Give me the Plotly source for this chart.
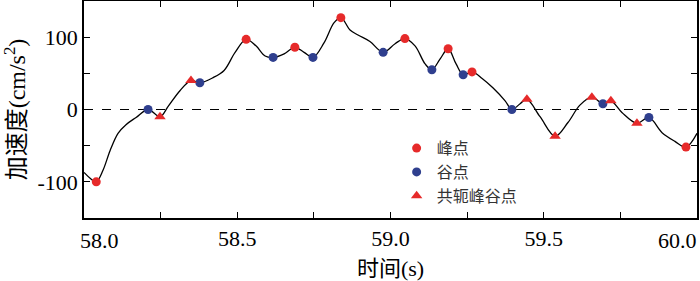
import plotly.graph_objects as go

# curve samples (time s, acceleration cm/s^2)
curve_t = [58.000, 58.020, 58.040, 58.062, 58.085, 58.111, 58.137, 58.170, 58.209, 58.248,
           58.274, 58.313, 58.349, 58.378, 58.421, 58.457, 58.493, 58.529, 58.561, 58.591,
           58.617, 58.653, 58.688, 58.718, 58.747, 58.783, 58.816, 58.838, 58.868, 58.894,
           58.933, 58.976, 59.015, 59.047, 59.080, 59.113, 59.135, 59.162, 59.188, 59.214,
           59.237, 59.266, 59.299, 59.334, 59.374, 59.396, 59.423, 59.445, 59.488, 59.537,
           59.579, 59.618, 59.657, 59.693, 59.719, 59.755, 59.804, 59.843, 59.886, 59.928,
           59.964, 60.000]
curve_a = [-87, -95, -100, -84, -57, -33, -21, -11, 0, -10,
           4, 26, 40, 37, 44, 54, 79, 97, 88, 74,
           72, 77, 86, 79, 72, 92, 120, 127, 110, 103,
           94, 79, 91, 98, 88, 63, 55, 70, 84, 63,
           48, 52, 43, 30, 12, 0, 8, 14, -10, -37,
           -18, 6, 17, 8, 12, -4, -19, -11, -32, -44,
           -52, -33]

peaks_t = [58.040, 58.529, 58.688, 58.838, 59.047, 59.188, 59.266, 59.964]
peaks_a = [-100, 97, 86, 127, 98, 84, 52, -52]

valleys_t = [58.209, 58.378, 58.617, 58.747, 58.976, 59.135, 59.237, 59.396, 59.693, 59.843]
valleys_a = [0, 37, 72, 72, 79, 55, 48, 0, 8, -11]

conj_t = [58.248, 58.349, 59.445, 59.537, 59.657, 59.719, 59.804]
conj_a = [-10, 40, 14, -37, 17, 12, -19]

x_ticks = [58.0, 58.5, 59.0, 59.5, 60.0]
x_tick_labels = ["58.0", "58.5", "59.0", "59.5", "60.0"]
y_ticks = [-100, 0, 100]
y_tick_labels = ["-100", "0", "100"]

RED = "#e62a2a"
BLUE = "#2f3f8e"
serif = "Liberation Serif"
cjk = "Noto Sans CJK SC"
TICK_FONT = dict(family=serif, size=22, color="black")

fig = go.Figure()
fig.add_trace(go.Scatter(x=curve_t, y=curve_a, mode="lines", line=dict(color="black", width=1.3, shape="spline", smoothing=1.0),
                         showlegend=False, hoverinfo="skip"))
fig.add_trace(go.Scatter(x=peaks_t, y=peaks_a, mode="markers", name="峰点",
                         marker=dict(color=RED, size=9, symbol="circle")))
fig.add_trace(go.Scatter(x=valleys_t, y=valleys_a, mode="markers", name="谷点",
                         marker=dict(color=BLUE, size=9, symbol="circle")))
fig.add_trace(go.Scatter(x=conj_t, y=conj_a, mode="markers", name="共轭峰谷点",
                         marker=dict(color=RED, size=10, symbol="triangle-up")))

fig.add_hline(y=0, line=dict(color="black", width=1.2, dash="dash"), layer="below")

axis_common = dict(showline=True, linecolor="black", linewidth=1.5, mirror="ticks",
                   ticks="inside", ticklen=6, tickwidth=1.3, tickcolor="black",
                   showgrid=False, zeroline=False, automargin=False,
                   tickfont=TICK_FONT)

# inner labels as axis ticks; end labels drawn as annotations (nudged inward like the reference)
fig.update_xaxes(range=[58.0, 60.0], tickvals=x_ticks[1:-1], ticktext=x_tick_labels[1:-1],
                 minor=dict(dtick=0.25, tick0=58.0, ticks="inside", ticklen=6, tickwidth=1.3, tickcolor="black"),
                 title=dict(text="时间(s)", font=dict(family=serif + ", " + cjk, size=22, color="black")),
                 **axis_common)
fig.update_yaxes(range=[-150, 150], tickvals=y_ticks, ticktext=y_tick_labels,
                 minor=dict(dtick=50, tick0=0, ticks="inside", ticklen=6, tickwidth=1.3, tickcolor="black"),
                 title=dict(text="加速度(cm/s<sup>2</sup>)", font=dict(family=serif + ", " + cjk, size=24, color="black")),
                 **axis_common)

for xv, txt, shift in [(x_ticks[0], x_tick_labels[0], 15), (x_ticks[-1], x_tick_labels[-1], -20)]:
    fig.add_annotation(x=xv, xref="x", y=0, yref="paper", text=txt, showarrow=False,
                       xanchor="center", yanchor="middle", xshift=shift, yshift=-22, font=TICK_FONT)

fig.update_layout(
    width=700, height=281,
    margin=dict(l=84, r=3, t=1, b=63, autoexpand=False),
    plot_bgcolor="white", paper_bgcolor="white",
    legend=dict(x=0.51, y=0.40, xanchor="left", yanchor="top",
                bgcolor="rgba(0,0,0,0)", font=dict(family=cjk, size=16, color="#333333"),
                itemwidth=30, tracegroupgap=0),
)

fig.write_html("out.html", config={"displayModeBar": False},
               post_script="document.body.style.margin='0';document.body.style.overflow='hidden';")
